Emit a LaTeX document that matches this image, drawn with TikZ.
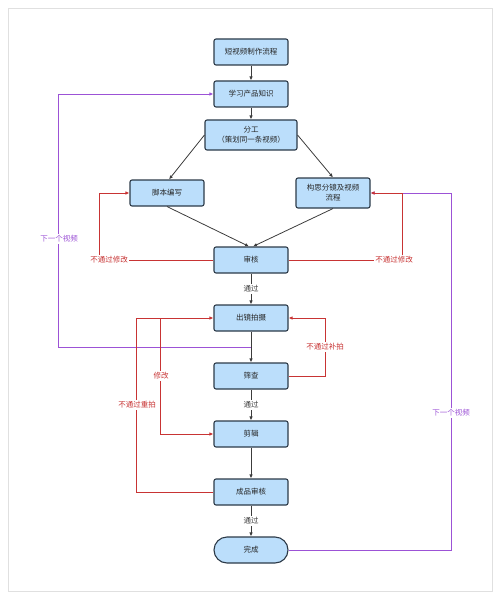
\documentclass[tikz,border=0pt]{standalone}
\usepackage{fontspec}
\setmainfont{Noto Sans CJK SC}
\usetikzlibrary{arrows.meta,calc}
\definecolor{boxfill}{RGB}{187,222,251}
\definecolor{boxline}{RGB}{44,58,72}
\definecolor{edgegray}{RGB}{60,60,60}
\definecolor{edgered}{RGB}{200,52,52}
\definecolor{edgepurple}{RGB}{156,82,214}
\begin{document}
\begin{tikzpicture}[x=1pt,y=-1pt,
  box/.style={draw=boxline,line width=1.1pt,fill=boxfill,rounded corners=2pt,
    minimum width=74pt,minimum height=26pt,inner sep=0pt,align=center,
    font=\fontsize{7.5}{10}\selectfont,text=black!85},
  arr/.style={draw=edgegray,line width=0.8pt,-{Latex[length=4pt,width=3.5pt]}},
  redarr/.style={draw=edgered,line width=0.8pt,-{Latex[length=4pt,width=3.5pt]}},
  purplearr/.style={draw=edgepurple,line width=0.8pt,-{Latex[length=4pt,width=3.5pt]}},
  lbl/.style={fill=white,inner sep=1.5pt,font=\fontsize{7.5}{9}\selectfont}]

\useasboundingbox (0,0) rectangle (500,599);
\draw[black!12,line width=0.6pt] (8,8) rectangle (492,591);

\node[box] (start) at (251,52) {短视频制作流程};
\node[box] (learn) at (251,94) {学习产品知识};
\node[box,minimum width=92pt,minimum height=30pt] (divide) at (251,135) {分工\\（策划同一条视频）};
\node[box] (script) at (167,193) {脚本编写};
\node[box,minimum height=30pt] (storyb) at (333,193) {构思分镜及视频\\流程};
\node[box] (review) at (251,260) {审核};
\node[box] (shoot) at (251,318) {出镜拍摄};
\node[box] (check) at (251,376) {筛查};
\node[box] (edit) at (251,434) {剪辑};
\node[box] (final) at (251,492) {成品审核};
\node[box,rounded corners=13pt] (done) at (251,550) {完成};

\coordinate (next) at ($(shoot.south)!0.5!(check.north)$);

% main flow
\draw[arr] (start) -- (learn);
\draw[arr] (learn) -- (divide);
\draw[arr] (divide.west) -- ([xshift=2pt]script.north);
\draw[arr] (divide.east) -- (storyb.north);
\draw[arr] (script.south) -- ([xshift=-2pt]review.north);
\draw[arr] (storyb.south) -- ([xshift=2pt]review.north);
\draw[arr] (review) -- node[lbl,text=edgegray] {通过} (shoot);
\draw[arr] (shoot) -- (check);
\draw[arr] (check) -- node[lbl,text=edgegray] {通过} (edit);
\draw[arr] (edit) -- (final);
\draw[arr] (final) -- node[lbl,text=edgegray] {通过} (done);

% loops back
\draw[purplearr] (next) -| ([xshift=-155pt]learn.west) -- (learn.west);
\draw[purplearr] (done.east) -| ([xshift=81pt]storyb.east) -- (storyb.east);
\draw[redarr] (review.west) -| ([xshift=-30pt]script.west) -- (script.west);
\draw[redarr] (review.east) -| ([xshift=32pt]storyb.east) -- (storyb.east);
\draw[redarr] (check.east) -| ([xshift=37pt]shoot.east) -- (shoot.east);
\draw[redarr] (final.west) -| ([xshift=-77pt]shoot.west) -- (shoot.west);
\draw[redarr] ([xshift=-53pt]shoot.west) |- (edit.west);

\node[lbl,text=edgepurple] (nextA) at (59,239) {下一个视频};
\node[lbl,text=edgepurple] (nextB) at (451,413) {下一个视频};
\node[lbl,text=edgered] (failA) at (109,260) {不通过修改};
\node[lbl,text=edgered] (failB) at (394,260) {不通过修改};
\node[lbl,text=edgered] (failC) at (325,347) {不通过补拍};
\node[lbl,text=edgered] (fixA) at (161,376) {修改};
\node[lbl,text=edgered] (failD) at (137,405) {不通过重拍};
\end{tikzpicture}
\end{document}
